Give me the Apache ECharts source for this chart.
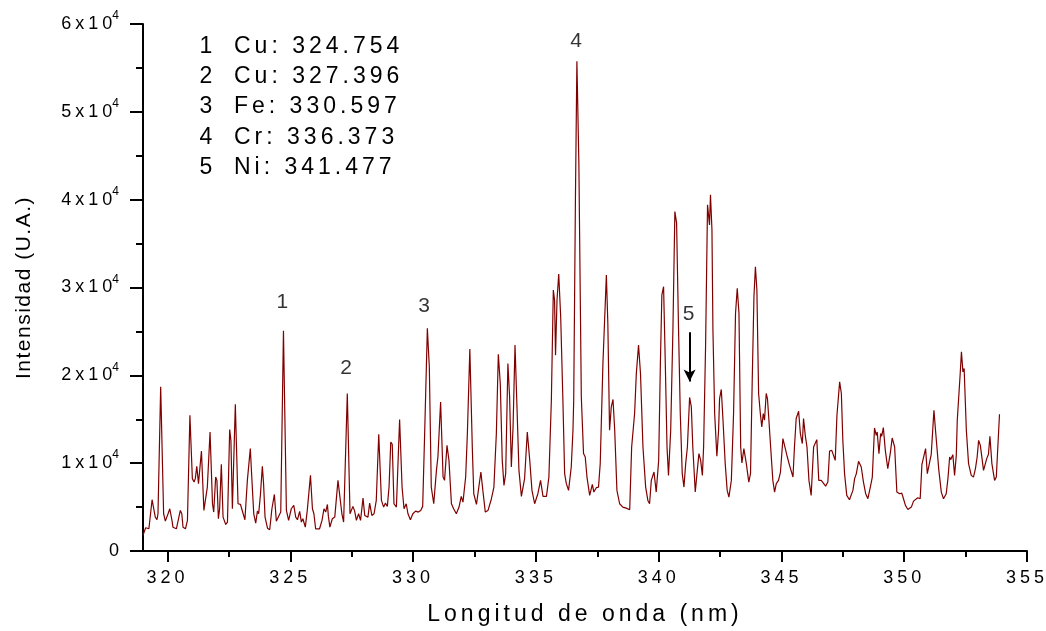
<!DOCTYPE html>
<html>
<head>
<meta charset="utf-8">
<script src="https://cdn.jsdelivr.net/npm/echarts@6/dist/echarts.min.js"></script>
<style>
  html, body { margin: 0; padding: 0; background: #fff; }
  #main { width: 1046px; height: 631px; }
</style>
</head>
<body>
<div id="main"></div>
<script>
// spectrum: wavelength (nm) / intensity (a.u.)
const wavelengths = [
  319.00, 319.11, 319.24, 319.37, 319.44, 319.50, 319.57, 319.61, 319.72, 319.84,
  319.91, 320.02, 320.09, 320.18, 320.22, 320.36, 320.43, 320.52, 320.58, 320.63,
  320.73, 320.81, 320.91, 321.01, 321.08, 321.13, 321.19, 321.26, 321.38, 321.48,
  321.54, 321.62, 321.73, 321.83, 321.88, 321.96, 322.01, 322.07, 322.12, 322.19,
  322.26, 322.37, 322.44, 322.53, 322.58, 322.64, 322.76, 322.87, 322.97, 323.02,
  323.15, 323.25, 323.37, 323.44, 323.51, 323.59, 323.66, 323.71, 323.78, 323.86,
  323.91, 323.97, 324.07, 324.16, 324.25, 324.35, 324.43, 324.54, 324.61, 324.72,
  324.84, 324.93,
  325.04, 325.14, 325.22, 325.29, 325.38, 325.45, 325.51, 325.61, 325.69, 325.82,
  325.90, 325.96, 326.03, 326.19, 326.29, 326.37, 326.44, 326.51, 326.55, 326.61,
  326.71, 326.81, 326.94, 327.02, 327.10, 327.17, 327.24, 327.32, 327.43, 327.49,
  327.55, 327.62, 327.69, 327.78, 327.86, 327.96, 328.03, 328.10, 328.16, 328.23,
  328.32, 328.41, 328.50, 328.60, 328.71, 328.80, 328.87, 328.95, 329.02, 329.09,
  329.15, 329.22, 329.32, 329.45, 329.55, 329.63, 329.72, 329.79, 329.89, 329.99,
  330.10, 330.21, 330.31, 330.39, 330.47, 330.58, 330.66, 330.74, 330.84,
  330.95, 331.01, 331.12, 331.22, 331.28, 331.38, 331.46, 331.56, 331.65, 331.76,
  331.87, 331.96, 332.03, 332.14, 332.21, 332.31, 332.41, 332.47, 332.58, 332.64,
  332.76, 332.84, 332.94, 333.05, 333.19, 333.29, 333.39, 333.47, 333.55, 333.63,
  333.70, 333.77, 333.86, 333.93, 334.00, 334.07, 334.15, 334.23, 334.31, 334.41,
  334.54, 334.65, 334.75, 334.84, 334.95, 335.08, 335.19, 335.29, 335.43, 335.53,
  335.63, 335.71, 335.76, 335.80, 335.86, 335.93, 336.01, 336.10, 336.17, 336.24,
  336.33, 336.44, 336.51, 336.54, 336.61, 336.67, 336.75, 336.85, 336.94, 337.01,
  337.08, 337.19, 337.30, 337.36, 337.46, 337.55, 337.62, 337.73, 337.87, 337.93,
  338.00, 338.07, 338.14, 338.21, 338.30, 338.41, 338.54, 338.68, 338.82, 338.90,
  339.02, 339.09, 339.18, 339.26, 339.36, 339.47, 339.56, 339.63, 339.70, 339.81,
  339.90, 340.00, 340.07, 340.13, 340.20, 340.27, 340.34, 340.40, 340.49, 340.58,
  340.66, 340.73, 340.81, 340.88, 340.96, 341.03, 341.10, 341.17, 341.26, 341.33,
  341.39, 341.49, 341.56, 341.64, 341.71, 341.78, 341.83, 341.91, 341.99, 342.07,
  342.11, 342.17, 342.21, 342.28, 342.37, 342.44, 342.48, 342.55, 342.62, 342.71,
  342.79, 342.86, 342.96, 343.05, 343.13, 343.20, 343.27, 343.34, 343.39, 343.47,
  343.57, 343.67, 343.74, 343.81, 343.88, 343.94, 344.00, 344.07, 344.14, 344.20,
  344.26, 344.31, 344.38, 344.43, 344.49, 344.56, 344.65, 344.72, 344.79, 344.88,
  344.96, 345.06, 345.14, 345.24, 345.33, 345.47, 345.53, 345.60, 345.70, 345.77,
  345.85, 345.90, 345.97, 346.04, 346.12, 346.21, 346.31, 346.38, 346.44, 346.52,
  346.62, 346.69, 346.80, 346.89, 346.96, 347.05, 347.12, 347.19, 347.26, 347.33,
  347.37, 347.44, 347.50, 347.57, 347.66, 347.77, 347.91, 347.98, 348.05, 348.14,
  348.25, 348.34, 348.43, 348.52, 348.62, 348.70, 348.79, 348.86, 348.90, 348.97,
  349.04, 349.08, 349.15, 349.23, 349.33, 349.43, 349.51, 349.61, 349.70, 349.81,
  349.90, 349.97, 350.05, 350.15, 350.29, 350.38, 350.46, 350.55, 350.65, 350.72,
  350.79, 350.87, 350.94, 351.00, 351.10, 351.21, 351.28, 351.33, 351.41, 351.51,
  351.60, 351.71, 351.78, 351.85, 351.89, 351.98, 352.05, 352.12, 352.16, 352.22,
  352.28, 352.33, 352.39, 352.44, 352.53, 352.62, 352.73, 352.82, 352.90, 352.97,
  353.03, 353.10, 353.16, 353.23, 353.30, 353.36, 353.43, 353.49, 353.57, 353.68,
  353.75, 353.88
];
const intensities = [
  1800, 2650, 2530, 5840, 5760, 3860, 3560, 4240, 18690, 4240,
  3400, 4240, 4810, 3480, 2710, 2530, 2340, 4620, 4240, 2710,
  2530, 3480, 15460, 8240, 7850, 8240, 9640, 7670, 11380, 4620,
  5760, 7280, 13550, 5380, 4430, 8420, 8040, 3670, 4810, 9870,
  3860, 3020, 3290, 13830, 12600, 4810, 16710, 5380, 5300, 4810,
  3560, 8040, 11660, 7850, 4240, 3170, 4540, 4240, 6330, 9640,
  7670, 3860, 2600, 2420, 4810, 6440, 3400, 4050, 4430, 25070,
  4620, 3480,
  4810, 5190, 3860, 3560, 4510, 3290, 3670, 2710, 4620, 8610,
  4810, 4240, 2530, 2530, 3480, 4810, 4430, 5300, 3940, 2710,
  3670, 3860, 8040, 7850, 4240, 3290, 3480, 17930, 4240, 4050,
  5080, 4540, 3480, 4240, 3480, 6020, 4050, 4240, 3860, 5450,
  4050, 4240, 5760, 13290, 5760, 5000, 5450, 5080, 7280, 12410,
  12150, 5380, 5000, 14970, 7280, 4810, 5380, 4240, 3560, 4240,
  4540, 4430, 4620, 5080, 13370, 25350, 20970, 7280, 5380,
  9180, 10700, 16970, 8420, 8040, 12030, 10320, 5380, 4810, 4240,
  5000, 6220, 5570, 8420, 13370, 22990, 11840, 6520, 5300, 5380,
  8990, 6900, 4430, 4620, 5950, 7280, 13370, 22410, 19070, 10320,
  7470, 8810, 21350, 17540, 9560, 14120, 23440, 16400, 9180, 6220,
  8240, 13550, 10320, 6900, 5380, 6520, 8040, 6220, 6220, 8420,
  17170, 29720, 28570, 22300, 28570, 31540, 26670, 17170, 8810, 7670,
  6900, 9560, 13750, 17170, 39980, 55760, 44170, 17540, 11090, 10700,
  8420, 6330, 7590, 6710, 7210, 7280, 9950, 21350, 31430, 25920,
  13750, 16400, 17250, 13750, 6900, 5380, 5000, 4880, 4700, 11840,
  15650, 20210, 23440, 20210, 11840, 7280, 5760, 5380, 8040, 8990,
  6710, 10320, 21350, 29150, 30090, 21350, 11840, 8610, 13750, 25150,
  38650, 37320, 25150, 15650, 8810, 7280, 9950, 11840, 17480, 16400,
  11840, 6710, 8810, 11090, 10320, 8610, 11840, 23250, 39410, 37130,
  40550, 36560, 25150, 15650, 10780, 13750, 17360, 18390, 14890, 9950,
  6900, 6140, 8040, 15650, 27060, 29910, 27060, 11840, 10020, 11660,
  9950, 7850, 8810, 19450, 28950, 32370, 29720, 17930, 15650, 14120,
  15650, 14890, 17930, 17360, 14890, 11840, 8040, 6710, 7670, 8040,
  8990, 12800, 12600, 10700, 9750, 8420, 11840, 15080, 15910, 13370,
  12230, 15080, 13170, 11840, 8040, 6330, 11840, 11840, 12680, 8040,
  8040, 8160, 7390, 7850, 11380, 11460, 11660, 10320, 15460, 15650,
  19260, 17930, 12600, 8810, 6330, 5840, 6900, 8240, 8810, 10210,
  9560, 7850, 6520, 5950, 7280, 8420, 14010, 13170, 13550, 11090,
  13370, 13060, 14050, 11460, 9380, 11090, 12870, 11840, 6710, 6520,
  6590, 5950, 5190, 4730, 5000, 5680, 5650, 6070, 5950, 9830,
  9950, 11660, 8810, 8610, 11010, 16030, 13550, 13550, 9180, 6710,
  5950, 6520, 8240, 10700, 10400, 10970, 8610, 10890, 14890, 15080,
  20210, 22680, 20390, 20780, 13750, 9950, 8610, 8420, 9380, 10700,
  12600, 12030, 12150, 9180, 8990, 10520, 11010, 13060, 9950, 8040,
  8420, 15570
];

const xMinorTicks = [322.5, 327.5, 332.5, 337.5, 342.5, 347.5, 352.5];

// numbered line labels (name, wavelength, intensity where the number sits)
const peakNames = ['1', '2', '3', '4', '5'];
const peakLabelX = [324.70, 327.30, 330.48, 336.67, 341.25];
const peakLabelY = [28350, 20820, 27890, 58000, 26980];

// arrow pointing at line 5
const arrowX = 341.26;
const arrowFrom = 24900;
const arrowTo = 19300;

const legendLines = ['Cu: 324.754', 'Cu: 327.396', 'Fe: 330.597', 'Cr: 336.373', 'Ni: 341.477'];

// widely spaced lettering like the original plot (canvas letterSpacing)
(function () {
  const proto = CanvasRenderingContext2D.prototype;
  if (!('letterSpacing' in proto)) return;
  const origFill = proto.fillText;
  proto.fillText = function () {
    const prev = this.letterSpacing;
    this.letterSpacing = /21px/.test(this.font) ? '1.5px' : '4px';
    origFill.apply(this, arguments);
    this.letterSpacing = prev;
  };
})();

const FONT = 'Liberation Sans, Arial, Helvetica, sans-serif';
const chart = echarts.init(document.getElementById('main'));

const option = {
  animation: false,
  grid: {left: 143, right: 19, top: 24, bottom: 80},
  xAxis: [{
    type: 'value',
    min: 319,
    max: 355,
    splitNumber: 8,
    name: 'Longitud de onda (nm)',
    nameLocation: 'middle',
    nameGap: 52,
    nameTextStyle: {fontSize: 23, color: '#000', fontFamily: FONT},
    axisLine: {show: true, onZero: false, lineStyle: {color: '#000', width: 2}},
    axisTick: {show: true, length: 11, lineStyle: {color: '#000', width: 2}},
    axisLabel: {show: true, showMinLabel: false, showMaxLabel: true, fontSize: 18, color: '#000', margin: 18, fontFamily: FONT},
    splitLine: {show: false}
  }, {
    // second copy of the x axis, only for the short minor ticks
    type: 'value',
    min: 319,
    max: 355,
    position: 'bottom',
    offset: 0,
    axisLine: {show: false},
    axisTick: {show: true, customValues: xMinorTicks, length: 6, lineStyle: {color: '#000', width: 2}},
    axisLabel: {show: false},
    splitLine: {show: false}
  }],
  yAxis: {
    type: 'value',
    min: 0,
    max: 60000,
    interval: 10000,
    name: 'Intensidad (U.A.)',
    nameLocation: 'middle',
    nameGap: 108,
    nameTextStyle: {fontSize: 21, color: '#000', fontFamily: FONT},
    axisLine: {show: true, onZero: false, lineStyle: {color: '#000', width: 2}},
    axisTick: {show: true, length: 13, lineStyle: {color: '#000', width: 2}},
    minorTick: {show: true, splitNumber: 2, length: 7, lineStyle: {color: '#000', width: 2}},
    axisLabel: {
      fontSize: 18,
      color: '#000',
      margin: 20,
      fontFamily: FONT,
      formatter: function (v) {
        if (v === 0) return '0';
        return '{b|' + (v / 10000) + 'x10}{s|4}';
      },
      rich: {
        b: {fontSize: 18, lineHeight: 28, color: '#000', fontFamily: FONT},
        s: {fontSize: 12, lineHeight: 10, verticalAlign: 'top', color: '#000', fontFamily: FONT}
      }
    },
    splitLine: {show: false}
  },
  series: [{
    type: 'line',
    data: wavelengths.map((w, i) => [w, intensities[i]]),
    showSymbol: false,
    symbol: 'none',
    lineStyle: {color: '#800000', width: 1.2},
    itemStyle: {color: '#800000'},
    markLine: {
      silent: true,
      symbolSize: [9, 12],
      label: {show: false},
      lineStyle: {color: '#000', width: 2, type: 'solid'},
      data: [[
        {coord: [arrowX, arrowFrom], symbol: 'none'},
        {coord: [arrowX, arrowTo], symbol: 'arrow'}
      ]]
    }
  }, {
    type: 'scatter',
    silent: true,
    symbolSize: 0,
    data: peakNames.map((n, i) => [peakLabelX[i], peakLabelY[i], n]),
    label: {
      show: true,
      position: [0, 0],
      align: 'center',
      verticalAlign: 'middle',
      formatter: p => p.value[2],
      fontSize: 21,
      color: '#000',
      textBorderWidth: 0,
      fontFamily: FONT
    }
  }],
  graphic: legendLines.map((line, i) => ({
    type: 'text',
    x: 199.5,
    y: 46.7 + i * 30.2,
    silent: true,
    style: {
      text: '{n|' + (i + 1) + '}{t|' + line + '}',
      verticalAlign: 'middle',
      align: 'left',
      fill: '#000',
      font: '23px ' + FONT,
      rich: {
        n: {width: 34.5, fontSize: 23, fontFamily: FONT, fill: '#000'},
        t: {fontSize: 23, fontFamily: FONT, fill: '#000'}
      }
    }
  }))
};

chart.setOption(option);
</script>
</body>
</html>
